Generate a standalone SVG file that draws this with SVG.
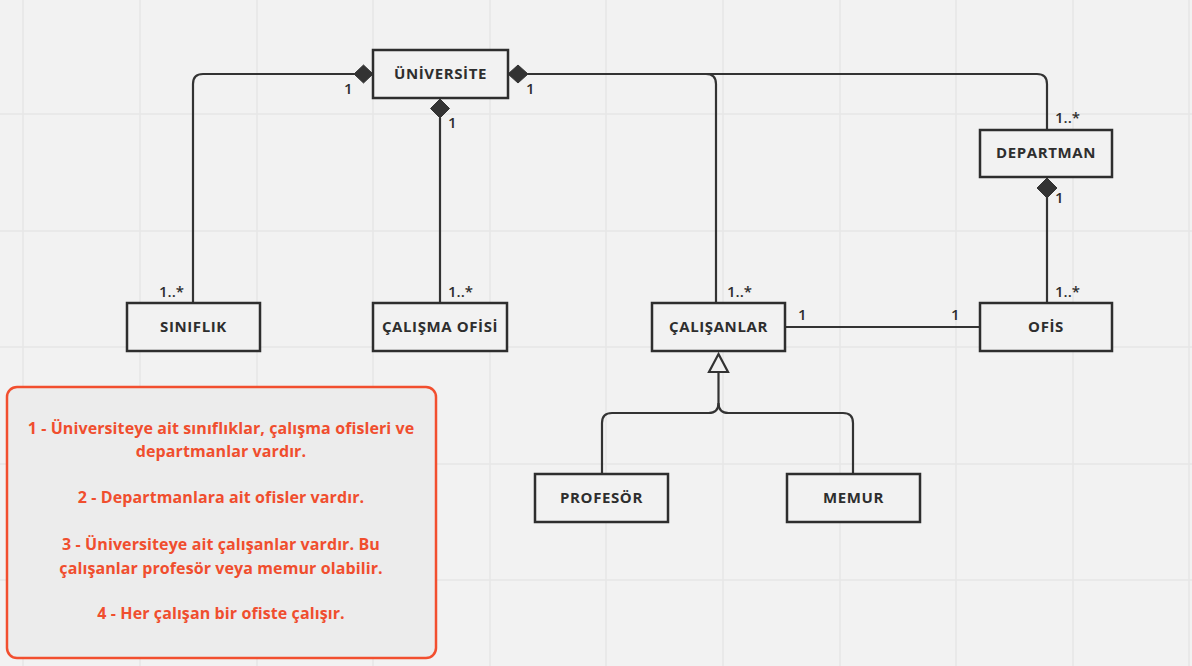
<svg xmlns="http://www.w3.org/2000/svg" width="1192" height="666" viewBox="0 0 1192 666">
<defs>
<style>
.grid{stroke:#e6e6e6;stroke-width:1.5}
.box{fill:#f2f2f2;stroke:#2e2e2e;stroke-width:2.5}
.lbl{font-family:"Open Sans","Liberation Sans",sans-serif;font-weight:700;font-size:15px;fill:#2e2e2e;text-anchor:middle;letter-spacing:0.6px}
.mult{font-family:"Open Sans","Liberation Sans",sans-serif;font-weight:600;font-size:15px;fill:#2e2e2e}
.conn{fill:none;stroke:#333;stroke-width:2.2}
.dia{fill:#333;stroke:#333;stroke-width:1}
.note{font-family:"Open Sans","Liberation Sans",sans-serif;font-weight:700;font-size:16px;letter-spacing:0.1px;fill:#f04e2e;text-anchor:middle}
</style>
</defs>
<rect width="1192" height="666" fill="#f2f2f2"/>
<g id="grid">
<line class="grid" x1="23" y1="0" x2="23" y2="666"/>
<line class="grid" x1="140" y1="0" x2="140" y2="666"/>
<line class="grid" x1="257" y1="0" x2="257" y2="666"/>
<line class="grid" x1="373" y1="0" x2="373" y2="666"/>
<line class="grid" x1="490" y1="0" x2="490" y2="666"/>
<line class="grid" x1="606" y1="0" x2="606" y2="666"/>
<line class="grid" x1="723" y1="0" x2="723" y2="666"/>
<line class="grid" x1="840" y1="0" x2="840" y2="666"/>
<line class="grid" x1="956" y1="0" x2="956" y2="666"/>
<line class="grid" x1="1073" y1="0" x2="1073" y2="666"/>
<line class="grid" x1="1189" y1="0" x2="1189" y2="666"/>
<line class="grid" x1="0" y1="114" x2="1192" y2="114"/>
<line class="grid" x1="0" y1="231" x2="1192" y2="231"/>
<line class="grid" x1="0" y1="347" x2="1192" y2="347"/>
<line class="grid" x1="0" y1="464" x2="1192" y2="464"/>
<line class="grid" x1="0" y1="580" x2="1192" y2="580"/>
</g>
<g id="connectors">
<path class="conn" d="M354 74 H203 Q193 74 193 84 V303"/>
<path class="conn" d="M440 118 V303"/>
<path class="conn" d="M528 74 H706 Q716 74 716 84 V303"/>
<path class="conn" d="M528 74 H1037 Q1047 74 1047 84 V130"/>
<path class="conn" d="M1047 197 V303"/>
<path class="conn" d="M785 327 H980"/>
<path class="conn" d="M718.5 372 V403 Q718.5 413 708.5 413 H612 Q602 413 602 423 V474"/>
<path class="conn" d="M718.5 403 Q718.5 413 728.5 413 H843 Q853 413 853 423 V474"/>
<polygon class="dia" points="354,74 363.5,65 373,74 363.5,83"/>
<polygon class="dia" points="440,99 449.5,108.5 440,118 430.5,108.5"/>
<polygon class="dia" points="508,74 518,65 528,74 518,83"/>
<polygon class="dia" points="1047,178 1057,188 1047,198 1037,188"/>
<polygon points="718.5,354 728,372 709,372" fill="#f2f2f2" stroke="#333" stroke-width="2.2"/>
<text class="mult" x="344" y="94">1</text>
<text class="mult" x="526" y="94">1</text>
<text class="mult" x="448" y="128">1</text>
<text class="mult" x="159" y="297">1..*</text>
<text class="mult" x="448" y="297">1..*</text>
<text class="mult" x="727" y="297">1..*</text>
<text class="mult" x="1055" y="297">1..*</text>
<text class="mult" x="1055" y="123">1..*</text>
<text class="mult" x="1055" y="203">1</text>
<text class="mult" x="798" y="320">1</text>
<text class="mult" x="951" y="320">1</text>
</g>
<g id="universite">
<rect class="box" x="373" y="50" width="135" height="48"/>
<text class="lbl" x="440.5" y="79">ÜNİVERSİTE</text>
</g>
<g id="departman">
<rect class="box" x="980" y="130" width="132" height="47"/>
<text class="lbl" x="1046" y="158">DEPARTMAN</text>
</g>
<g id="siniflik">
<rect class="box" x="127" y="303" width="133" height="48"/>
<text class="lbl" x="193.5" y="332">SINIFLIK</text>
</g>
<g id="calisma-ofisi">
<rect class="box" x="373" y="303" width="134" height="48"/>
<text class="lbl" x="440" y="332">ÇALIŞMA OFİSİ</text>
</g>
<g id="calisanlar">
<rect class="box" x="652" y="303" width="133" height="48"/>
<text class="lbl" x="718.5" y="332">ÇALIŞANLAR</text>
</g>
<g id="ofis">
<rect class="box" x="980" y="303" width="132" height="48"/>
<text class="lbl" x="1046" y="332">OFİS</text>
</g>
<g id="profesor">
<rect class="box" x="535" y="474" width="133" height="48"/>
<text class="lbl" x="601.5" y="503">PROFESÖR</text>
</g>
<g id="memur">
<rect class="box" x="787" y="474" width="133" height="48"/>
<text class="lbl" x="853.5" y="503">MEMUR</text>
</g>
<g id="note">
<rect x="7" y="387" width="429" height="271" rx="10" fill="#ececec" stroke="#f24f2f" stroke-width="2.5"/>
<text class="note" x="221" y="434">1 - Üniversiteye ait sınıflıklar, çalışma ofisleri ve</text>
<text class="note" x="221" y="457">departmanlar vardır.</text>
<text class="note" x="221" y="503">2 - Departmanlara ait ofisler vardır.</text>
<text class="note" x="221" y="550">3 - Üniversiteye ait çalışanlar vardır. Bu</text>
<text class="note" x="221" y="574">çalışanlar profesör veya memur olabilir.</text>
<text class="note" x="221" y="619">4 - Her çalışan bir ofiste çalışır.</text>
</g>
</svg>
